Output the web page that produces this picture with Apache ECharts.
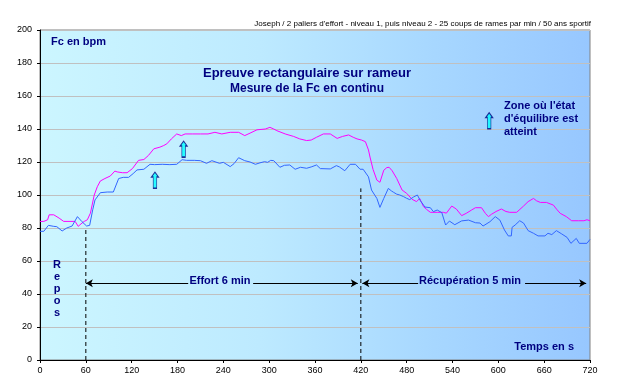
<!DOCTYPE html>
<html><head><meta charset="utf-8">
<script src="https://cdn.jsdelivr.net/npm/echarts@6/dist/echarts.min.js"></script>
<style>html,body{margin:0;padding:0;background:#fff}#c{width:620px;height:390px}</style>
</head><body><div id="c"></div>
<script>
// ---- data ----
const xTicks = [0,60,120,180,240,300,360,420,480,540,600,660,720];
const yTicks = [0,20,40,60,80,100,120,140,160,180,200];

const pinkT = [0,5,10,12,18,25,31,46,50,55,58,62,66,71,75,79,85,92,98,101,108,114,121,129,136,142,149,157,162,166,172,179,185,190,200,210,220,229,238,249,260,268,275,284,295,301,306,310,321,332,340,349,355,362,371,380,389,396,404,410,415,421,426,430,432,436,441,445,446,450,454,457,461,463,467,471,474,480,487,493,497,502,506,511,520,528,532,539,545,552,558,565,570,578,583,587,591,597,604,610,615,624,633,639,646,650,655,663,672,677,681,689,696,705,712,716,720];
const pinkV = [84,84,85,88,88,86,84,84,81,83,84,85,89,100,105,108.5,110,111.5,114.5,114,113.5,113.5,116,121,121.5,124,128,129,130,131,134,137,136,137,137,137,137,138,137,138,138,136,137.5,139.5,140,141,140,139,137,135.5,134,133,133.3,135,137,137,134.3,135.5,136.4,135,134,133.3,132.3,127.3,123,115.5,109,107.7,108,115,116.6,116.8,114.7,114,110,106,103,101,97.4,96,97.9,93,91.3,89.5,89.5,89.5,89,93.3,91.5,87.5,88.9,90.9,92.3,92.3,88.9,86.9,88.3,90,91.5,90,89.5,89.5,93.3,96,97.9,96.5,95.5,95.5,93.9,91,88.9,86.9,84.4,84.4,84.4,85,84.4];

const blueT = [0,5,11,18,22,29,35,42,49,55,61,65,69,72,79,88,96,103,109,116,122,127,136,144,150,160,170,179,186,192,202,210,218,225,235,240,249,254,260,268,275,282,288,294,298,302,306,314,320,327,334,341,349,355,362,367,380,388,392,399,406,413,419,423,430,434,441,445,450,456,460,463,467,471,476,480,484,489,494,498,504,511,515,520,526,531,536,543,552,561,570,576,580,589,596,602,608,613,617,618,622,628,633,639,646,652,661,665,670,676,683,690,695,702,706,716,720];
const blueV = [78,78,81.6,81,80.8,78.2,80,81.2,86.9,83.8,81.2,81.6,91,97,101.4,101.8,101.8,110,110.7,110.7,113,115.2,115.6,118.6,118.4,118.6,118.4,118.6,121.4,121,121,120.8,119.2,120.8,119.2,119.8,117.2,119,122.6,120.8,120,118.6,119.5,120.2,119.8,121,120.8,116.8,118,118.2,115.6,116.8,116.2,117,118.2,116,115.8,117.8,117,114.7,118.6,118.6,115.6,115.6,111,103,97.9,92.5,97.9,104,102.5,101.6,100.5,100,99,98,97.2,98.8,100,96.5,92.7,92.3,89.9,90.9,89.3,81.8,84.2,82,84.3,84.8,83.2,83,81.2,83.8,86.9,84.8,78.8,75.2,75.2,80.4,81.8,84.4,83,78.4,76.8,75.2,75.2,76.8,76,78.4,76.4,74.3,70.7,73.7,70.7,70.7,73.1];

// annotations (phase boundaries, arrows, markers)
const phaseBounds = [60, 420];
const phaseTops = [79, 104];
const arrowLevel = 46.5;
const effortSegs = [[60,194],[279,416]];
const recupSegs = [[422,495],[635,715]];
const upArrows = [[150.5,109],[188,127.8],[588,145]];

const navy = '#000080';
const F = '"Liberation Sans", Arial, sans-serif';

const chart = echarts.init(document.getElementById('c'));

const series = [
  {name:'Fc 2', type:'line', data: pinkT.map((t,i)=>[t,pinkV[i]]), symbol:'none',
   lineStyle:{color:'#ff00ff', width:1}, z:5},
  {name:'Fc 1', type:'line', data: blueT.map((t,i)=>[t,blueV[i]]), symbol:'none',
   lineStyle:{color:'#3366ff', width:1}, z:5}
];
phaseBounds.forEach((b,i)=>{
  series.push({type:'line', data:[[b,0],[b,phaseTops[i]]], symbol:'none',
    lineStyle:{color:'#000', width:1, type:[4,3]}, z:4});
});
function arrowSeg(a,b,startSym,endSym){
  return {type:'line', data:[], markLine:{silent:true, symbol:[startSym,endSym], symbolSize:[6,7],
    label:{show:false}, lineStyle:{color:'#000', width:1, type:'solid'},
    data:[[{coord:[a,arrowLevel]},{coord:[b,arrowLevel]}]]}};
}
series.push(arrowSeg(effortSegs[0][0],effortSegs[0][1],'arrow','none'));
series.push(arrowSeg(effortSegs[1][0],effortSegs[1][1],'none','arrow'));
series.push(arrowSeg(recupSegs[0][0],recupSegs[0][1],'arrow','none'));
series.push(arrowSeg(recupSegs[1][0],recupSegs[1][1],'none','arrow'));
series.push({type:'scatter', data:upArrows, symbol:'path://M3,0 L6,4.5 L4.5,4.5 L4.5,15 L1.5,15 L1.5,4.5 L0,4.5 Z',
  symbolSize:[7,16], itemStyle:{color:'#00ffff', borderColor:navy, borderWidth:1}, z:6});

function txt(x,y,s,font,align){
  return {type:'text', x:x, y:y, z:10, style:{text:s, font:font, fill:navy, align:align||'left', verticalAlign:'middle'}};
}
const B11 = 'bold 11px '+F;

chart.setOption({
  animation:false,
  grid:{left:40, right:30, top:30, bottom:30, show:true, borderColor:'#808080', borderWidth:1,
    backgroundColor:new echarts.graphic.LinearGradient(0,0,1,0,[
      {offset:0,color:'#ccf6ff'},{offset:0.4,color:'#bdeaff'},{offset:0.7,color:'#a8d8ff'},{offset:1,color:'#97c7ff'}])},
  xAxis:{type:'value', min:0, max:720, interval:60,
    axisLine:{show:true, lineStyle:{color:'#000', width:1}},
    axisTick:{show:true, length:3, lineStyle:{color:'#000'}},
    axisLabel:{fontSize:9, color:'#000', fontFamily:F, margin:6},
    splitLine:{show:false}},
  yAxis:{type:'value', min:0, max:200, interval:20,
    axisLine:{show:true, lineStyle:{color:'#000', width:1}},
    axisTick:{show:true, length:3, lineStyle:{color:'#000'}},
    axisLabel:{fontSize:9, color:'#000', fontFamily:F, margin:8},
    splitLine:{show:true, lineStyle:{color:'#c0c0c0', width:1}}},
  graphic:[
    {type:'text', x:591, y:24, z:10, style:{text:"Joseph / 2 paliers d'effort - niveau 1, puis niveau 2 - 25 coups de rames par min / 50 ans sportif",
      font:'8px '+F, fill:'#000', align:'right', verticalAlign:'middle'}},
    txt(51,42,'Fc en bpm',B11),
    txt(307,73,'Epreuve rectangulaire sur rameur','bold 13px '+F,'center'),
    txt(307,89,'Mesure de la Fc en continu','bold 12px '+F,'center'),
    txt(504,106,"Zone où l'état",B11),
    txt(504,119,"d'équilibre est",B11),
    txt(504,132,'atteint',B11),
    txt(574,347,'Temps en s',B11,'right'),
    txt(220,281,'Effort 6 min',B11,'center'),
    txt(470,281,'Récupération 5 min',B11,'center'),
    txt(57,265,'R',B11,'center'),
    txt(57,277,'e',B11,'center'),
    txt(57,289,'p',B11,'center'),
    txt(57,301,'o',B11,'center'),
    txt(57,313,'s',B11,'center')
  ],
  series: series
});
</script></body></html>
